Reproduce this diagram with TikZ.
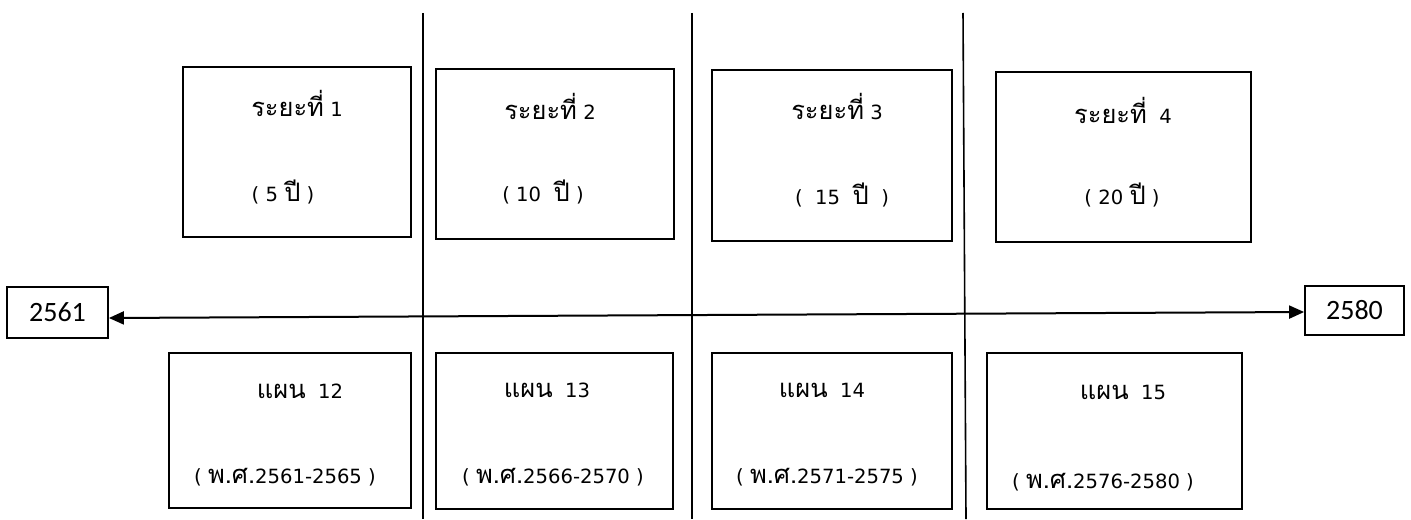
\documentclass[tikz,border=0pt]{standalone}
\usepackage{fontspec}
\setmainfont{DejaVu Sans}
\newfontfamily\thai[Script=Thai,Scale=1.3]{Loma}
\newfontfamily\yearfont{Carlito}
\usetikzlibrary{arrows.meta}
\begin{document}
\begin{tikzpicture}[x=0.5pt,y=-0.5pt,
  box/.style={draw, line width=1pt, rectangle, inner sep=0pt},
  lbl/.style={inner sep=0pt, font=\fontsize{9.8}{11}\selectfont},
  yearbox/.style={draw, line width=0.9pt, rectangle, inner sep=0pt, font=\yearfont\fontsize{14}{16}\selectfont},
  sep/.style={line width=0.8pt},
  arr/.style={line width=1pt, {Triangle[length=7.5pt,width=6.5pt]}-{Triangle[length=7.5pt,width=6.5pt]}}]
\useasboundingbox (0,0) rectangle (1411,519);
% separators
\coordinate (v1t) at (423,13); \coordinate (v1b) at (423,519);
\coordinate (v2t) at (692,13); \coordinate (v2b) at (692,519);
\coordinate (v3t) at (963,13); \coordinate (v3b) at (966,519);
\draw[sep] (v1t) -- (v1b);
\draw[sep] (v2t) -- (v2b);
\draw[sep] (v3t) -- (v3b);
% top boxes
\node[box, minimum width=114pt, minimum height=85pt] (t1) at (297,152) {};
\node[box, minimum width=119pt, minimum height=85pt] (t2) at (555,154) {};
\node[box, minimum width=120pt, minimum height=85.5pt] (t3) at (832,155.5) {};
\node[box, minimum width=127.5pt, minimum height=85pt] (t4) at (1123.5,157) {};
\node[lbl] (t1a) at (297,103) {{\thai ระยะที่} 1};
\node[lbl] (t1b) at (283,192) {( 5 {\thai ปี} )};
\node[lbl] (t2a) at (550,106) {{\thai ระยะที่} 2};
\node[lbl] (t2b) at (543,192) {( 10\ \ {\thai ปี} )};
\node[lbl] (t3a) at (837,107) {{\thai ระยะที่} 3};
\node[lbl] (t3b) at (842,195) {(\ \ 15\ \ {\thai ปี}\ \ )};
\node[lbl] (t4a) at (1123,110) {{\thai ระยะที่}\ \ 4};
\node[lbl] (t4b) at (1122,195) {( 20 {\thai ปี} )};
% bottom boxes
\node[box, minimum width=121pt, minimum height=77.5pt] (b1) at (290,430.5) {};
\node[box, minimum width=118.5pt, minimum height=78pt] (b2) at (554.5,431) {};
\node[box, minimum width=120pt, minimum height=78pt] (b3) at (832,431) {};
\node[box, minimum width=127.5pt, minimum height=78pt] (b4) at (1114.5,431) {};
\node[lbl] (b1a) at (300,391) {{\thai แผน}\ \ 12};
\node[lbl] (b1b) at (285,477) {( {\thai พ.ศ.}2561-2565 )};
\node[lbl] (b2a) at (547,390) {{\thai แผน}\ \ 13};
\node[lbl] (b2b) at (553,477) {( {\thai พ.ศ.}2566-2570 )};
\node[lbl] (b3a) at (822,390) {{\thai แผน}\ \ 14};
\node[lbl] (b3b) at (827,477) {( {\thai พ.ศ.}2571-2575 )};
\node[lbl] (b4a) at (1123,392) {{\thai แผน}\ \ 15};
\node[lbl] (b4b) at (1103,482) {( {\thai พ.ศ.}2576-2580 )};
% year boxes
\node[yearbox, minimum width=50.5pt, minimum height=25.5pt] (y1) at (57.5,312.5) {2561};
\node[yearbox, minimum width=49.5pt, minimum height=24.5pt] (y2) at (1354.5,310.5) {2580};
% timeline arrow
\coordinate (al) at (y1.east |- 0,318);
\coordinate (ar) at (y2.west |- 0,312);
\draw[arr] (al) -- (ar);
\end{tikzpicture}
\end{document}
